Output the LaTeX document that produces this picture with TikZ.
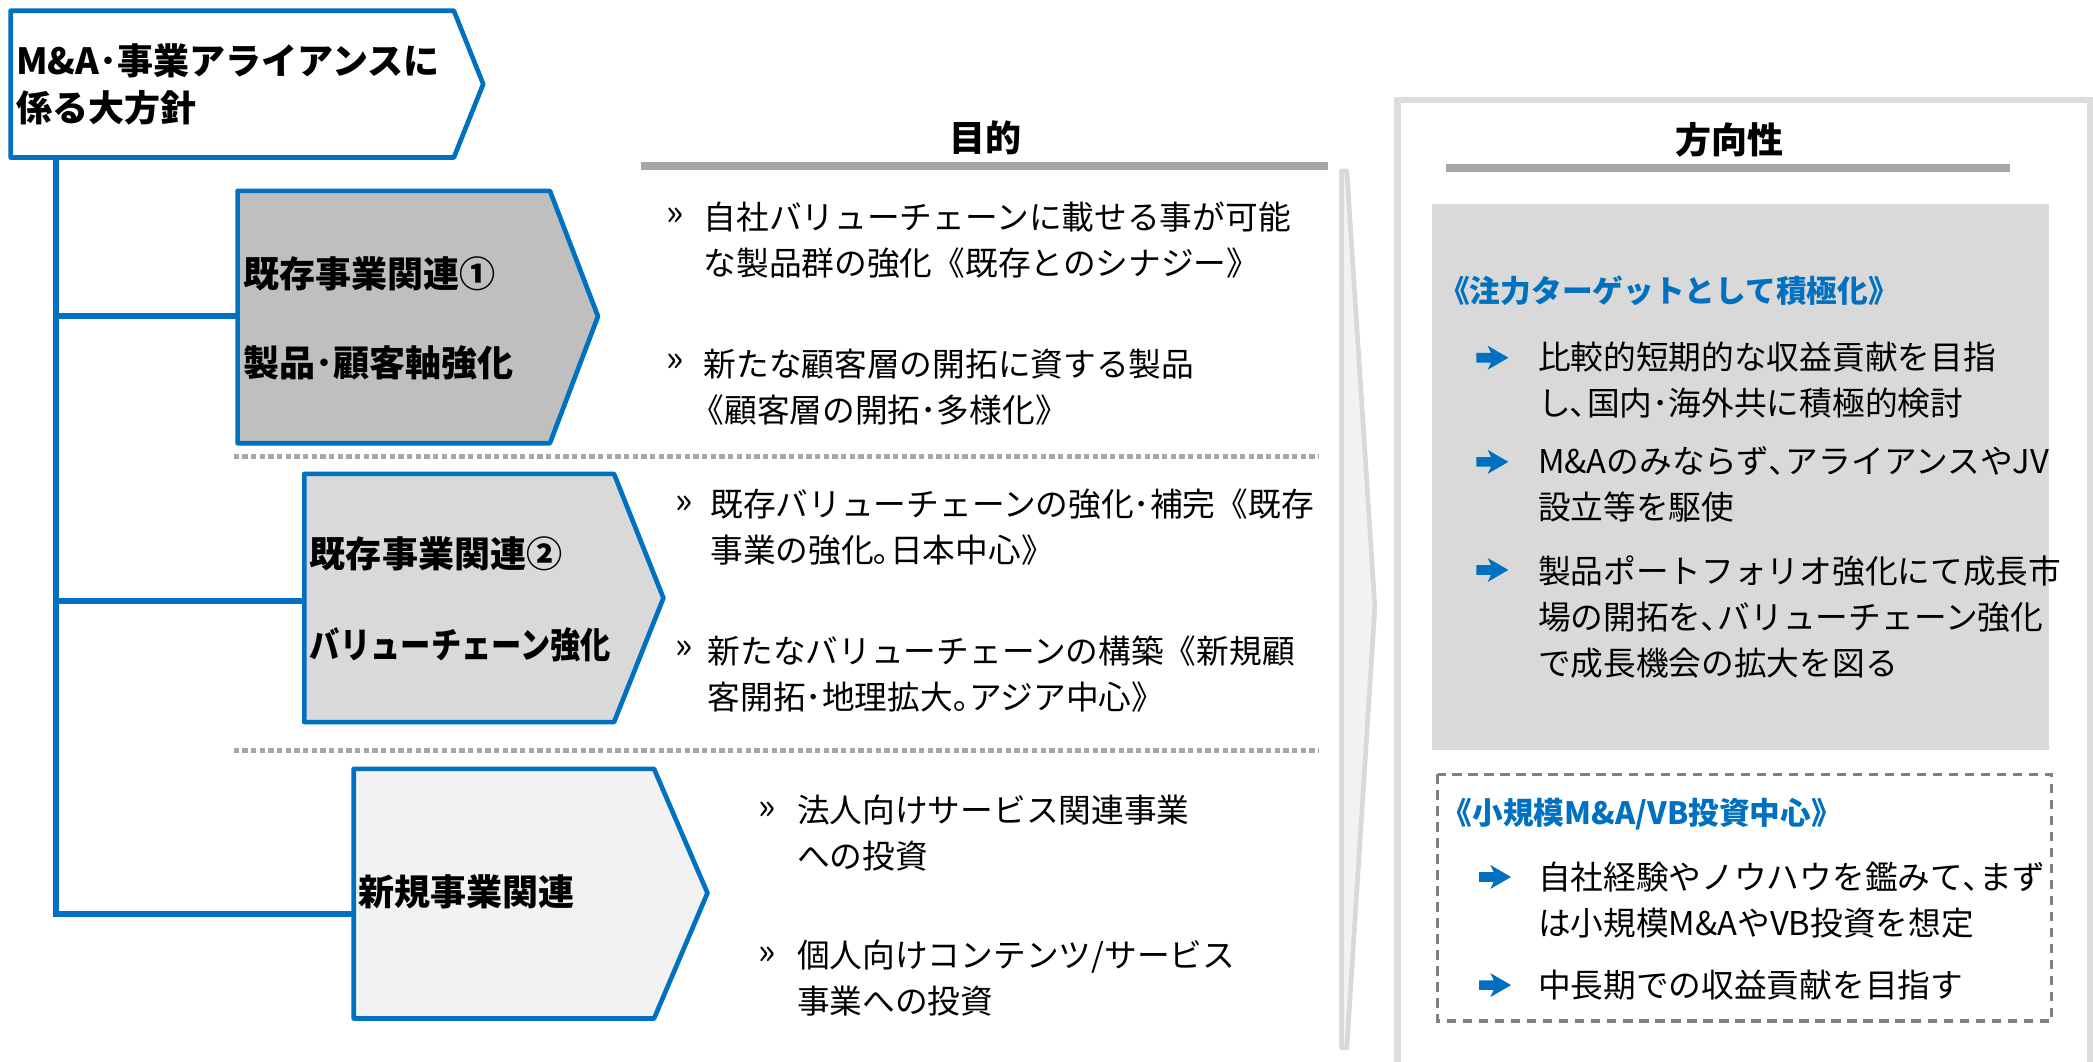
\documentclass[tikz,border=0pt]{standalone}
\usepackage{fontspec}
\setmainfont{Noto Sans CJK JP}
\definecolor{mblue}{HTML}{0070C0}
\definecolor{bargray}{HTML}{A6A6A6}
\definecolor{sepgray}{HTML}{A6A6A6}
\definecolor{fillA}{HTML}{BFBFBF}
\definecolor{fillB}{HTML}{D9D9D9}
\definecolor{fillC}{HTML}{F2F2F2}
\definecolor{panelgray}{HTML}{DCDCDC}
\definecolor{dashgray}{HTML}{808080}
\begin{document}
\begin{tikzpicture}[x=1pt,y=-1pt,
  outline/.style={draw=mblue, line width=3.5pt, line join=round},
  tree/.style={draw=mblue, line width=4.5pt},
  sep/.style={draw=sepgray, line width=4pt, dash pattern=on 4pt off 2.5pt},
  hbar/.style={draw=bargray, line width=6pt},
  body/.style={font=\fontsize{24.5}{34.5}\selectfont, align=left, inner sep=0pt, anchor=west},
  bul/.style={font=\fontsize{27}{30}\selectfont, inner sep=0pt, anchor=west},
  head/.style={font=\bfseries\fontsize{27}{30}\selectfont, inner sep=0pt},
  chevtxt/.style={font=\bfseries\fontsize{27}{30}\selectfont, inner sep=0pt, anchor=west},
  bluehd/.style={font=\bfseries\fontsize{23}{28}\selectfont, text=mblue, inner sep=0pt, anchor=west},
  barrowpic/.pic={\fill[mblue] (-12,-3.6) -- (-1,-3.6) -- (-3.5,-9) -- (12,0) -- (-3.5,9) -- (-1,3.6) -- (-12,3.6) -- cycle;}
]
\clip (0,0) rectangle (1568,795);
\fill[white] (0,0) rectangle (1568,795);

% ---------- tree ----------
\coordinate (topS) at (42,118);
\coordinate (c1in) at (178,237);
\coordinate (c2in) at (228,450);
\coordinate (c3in) at (265,685);
\draw[tree] (topS) -- (c3in -| topS) -- (c3in);
\draw[tree] (c1in -| topS) -- (c1in);
\draw[tree] (c2in -| topS) -- (c2in);

% ---------- top box ----------
\filldraw[outline, fill=white] (8,8) -- (340,8) -- (362,63) -- (340,118) -- (8,118) -- cycle;
\node[font=\bfseries\fontsize{27}{35}\selectfont, align=left, inner sep=0pt, anchor=west] (toptxt) at (12,63) {M\&A･事業アライアンスに\\係る大方針};

% ---------- chevrons ----------
\filldraw[outline, fill=fillA] (178,143) -- (412,143) -- (448,237) -- (412,332) -- (178,332) -- cycle;
\node[chevtxt] (c1a) at (182,205) {既存事業関連①};
\node[chevtxt] (c1b) at (182,272) {製品･顧客軸強化};

\filldraw[outline, fill=fillB] (228,355) -- (460,355) -- (497,448) -- (460,541) -- (228,541) -- cycle;
\node[chevtxt] (c2a) at (232,415) {既存事業関連②};
\node[chevtxt] (c2b) at (232,483) {\scalebox{0.84}[1]{バリューチェーン強化}};

\filldraw[outline, fill=fillC] (265,576) -- (490,576) -- (530,669) -- (490,763) -- (265,763) -- cycle;
\node[chevtxt] (c3a) at (268,668) {新規事業関連};

% ---------- separators ----------
\draw[sep] (175,342) -- (988,342);
\draw[sep] (175,562) -- (988,562);

% ---------- 目的 column ----------
\node[head] (hmok) at (738,103) {目的};
\draw[hbar] (480,124) -- (995,124);

\node[bul] (m1) at (499,162) {»};
\node[body] (t1) at (527,180) {自社バリューチェーンに載せる事が可能\\な製品群の強化《既存とのシナジー》};
\node[bul] (m2) at (499,272) {»};
\node[body] (t2) at (527,290) {新たな顧客層の開拓に資する製品\\\kern-9pt《顧客層の開拓･多様化》};
\node[bul] (m3) at (506,378) {»};
\node[body] (t3) at (532,395) {既存バリューチェーンの強化･補完《既存\\事業の強化｡日本中心》};
\node[bul] (m4) at (506,487) {»};
\node[body] (t4) at (530,505) {新たなバリューチェーンの構築《新規顧\\客開拓･地理拡大｡アジア中心》};
\node[bul] (m5) at (568,607) {»};
\node[body] (t5) at (597,624) {法人向けサービス関連事業\\への投資};
\node[bul] (m6) at (568,716) {»};
\node[body] (t6) at (597,733) {個人向けコンテンツ/サービス\\事業への投資};

% ---------- big gray chevron ----------
\filldraw[draw=fillB, fill=fillC, line width=3.5pt, line join=round] (1005,128) -- (1009,128) -- (1030,455) -- (1009,785) -- (1005,785) -- cycle;

% ---------- 方向性 panel ----------
\draw[draw=panelgray, line width=5pt] (1047,75) rectangle (1566,830);
\node[head] (hhou) at (1296,105) {方向性};
\draw[hbar] (1083,126) -- (1506,126);

\fill[fillB] (1073,153) rectangle (1535,562);
\node[bluehd] (bh1) at (1078,218) {《注力ターゲットとして積極化》};
\pic (a1) at (1118,268) {barrowpic};
\node[body] (r1) at (1152,285) {比較的短期的な収益貢献を目指\\し､国内･海外共に積極的検討};
\pic (a2) at (1118,346) {barrowpic};
\node[body] (r2) at (1152,363) {M\&Aのみならず､アライアンスやJV\\設立等を駆使};
\pic (a3) at (1118,427) {barrowpic};
\node[body] (r3) at (1152,462) {製品ポートフォリオ強化にて成長市\\場の開拓を､バリューチェーン強化\\で成長機会の拡大を図る};

\draw[draw=dashgray, line width=2.5pt, dash pattern=on 7pt off 5pt] (1077,580) rectangle (1537,765);
\node[bluehd] (bh2) at (1080,610) {《小規模M\&A/VB投資中心》};
\pic (a4) at (1120,657) {barrowpic};
\node[body] (r4) at (1152,674) {自社経験やノウハウを鑑みて､まず\\は小規模M\&AやVB投資を想定};
\pic (a5) at (1120,738) {barrowpic};
\node[body] (r5) at (1152,738) {中長期での収益貢献を目指す};
\end{tikzpicture}
\end{document}
